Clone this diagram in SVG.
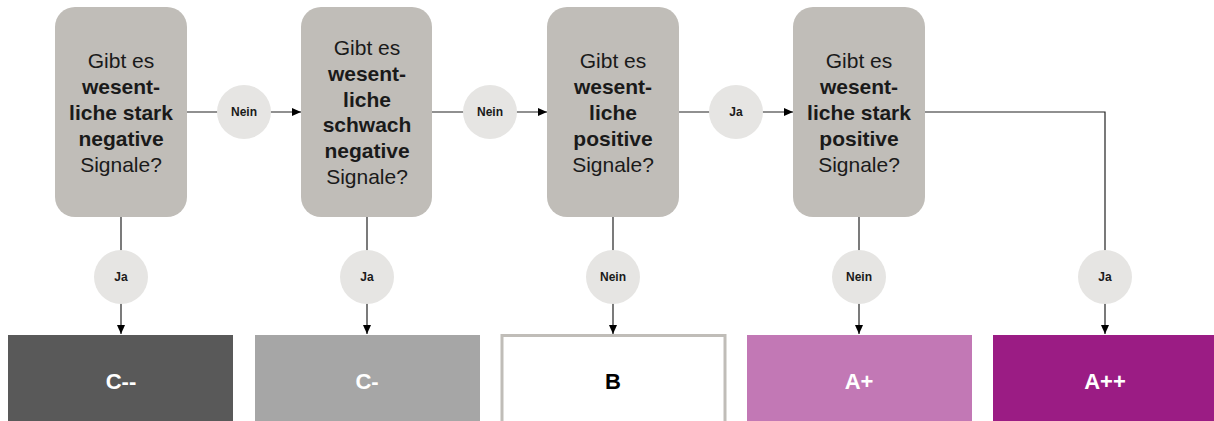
<svg xmlns="http://www.w3.org/2000/svg" width="1214" height="421" viewBox="0 0 1214 421">
<defs>
<marker id="ah" markerWidth="10" markerHeight="10" refX="9" refY="5" orient="auto" markerUnits="userSpaceOnUse">
<path d="M0,1 L9,5 L0,9 Z" fill="#000"/>
</marker>
<style>
.q{fill:#C0BDB8;}
.qt{font-family:"Liberation Sans",Arial,Helvetica,sans-serif;font-size:21px;fill:#1a1a1a;text-anchor:middle;}
.b{font-weight:bold;}
.c{fill:#E6E5E3;}
.ct{font-family:"Liberation Sans",Arial,Helvetica,sans-serif;font-size:12px;font-weight:bold;fill:#1a1a1a;text-anchor:middle;}
.ln{stroke:#222;stroke-width:1.2;fill:none;}
.rt{font-family:"Liberation Sans",Arial,Helvetica,sans-serif;font-size:22px;font-weight:bold;fill:#fff;text-anchor:middle;}
</style>
</defs>
<rect width="1214" height="421" fill="#fff"/>
<g id="connectors">
<line class="ln" x1="187" y1="112" x2="301" y2="112" marker-end="url(#ah)"/>
<line class="ln" x1="432" y1="112" x2="547" y2="112" marker-end="url(#ah)"/>
<line class="ln" x1="679" y1="112" x2="793" y2="112" marker-end="url(#ah)"/>
<polyline class="ln" points="925,112 1105,112 1105,334" marker-end="url(#ah)"/>
<line class="ln" x1="121" y1="217" x2="121" y2="334" marker-end="url(#ah)"/>
<line class="ln" x1="367" y1="217" x2="367" y2="334" marker-end="url(#ah)"/>
<line class="ln" x1="613" y1="217" x2="613" y2="334" marker-end="url(#ah)"/>
<line class="ln" x1="859" y1="217" x2="859" y2="334" marker-end="url(#ah)"/>
<circle class="c" cx="244" cy="112" r="27"/><text class="ct" x="244" y="116">Nein</text>
<circle class="c" cx="490" cy="112" r="27"/><text class="ct" x="490" y="116">Nein</text>
<circle class="c" cx="736" cy="112" r="27"/><text class="ct" x="736" y="116">Ja</text>
<circle class="c" cx="121" cy="277" r="27"/><text class="ct" x="121" y="281">Ja</text>
<circle class="c" cx="367" cy="277" r="27"/><text class="ct" x="367" y="281">Ja</text>
<circle class="c" cx="613" cy="277" r="27"/><text class="ct" x="613" y="281">Nein</text>
<circle class="c" cx="859" cy="277" r="27"/><text class="ct" x="859" y="281">Nein</text>
<circle class="c" cx="1105" cy="277" r="27"/><text class="ct" x="1105" y="281">Ja</text>
</g>
<g id="q1">
<rect class="q" x="55" y="7" width="132" height="210" rx="20"/>
<text class="qt" x="121" y="68">Gibt es</text>
<text class="qt b" x="121" y="94">wesent-</text>
<text class="qt b" x="121" y="120">liche stark</text>
<text class="qt b" x="121" y="146">negative</text>
<text class="qt" x="121" y="172">Signale?</text>
</g>
<g id="q2">
<rect class="q" x="301" y="7" width="131" height="210" rx="20"/>
<text class="qt" x="367" y="55">Gibt es</text>
<text class="qt b" x="367" y="81">wesent-</text>
<text class="qt b" x="367" y="107">liche</text>
<text class="qt b" x="367" y="132">schwach</text>
<text class="qt b" x="367" y="158">negative</text>
<text class="qt" x="367" y="184">Signale?</text>
</g>
<g id="q3">
<rect class="q" x="547" y="7" width="132" height="210" rx="20"/>
<text class="qt" x="613" y="68">Gibt es</text>
<text class="qt b" x="613" y="94">wesent-</text>
<text class="qt b" x="613" y="120">liche</text>
<text class="qt b" x="613" y="146">positive</text>
<text class="qt" x="613" y="172">Signale?</text>
</g>
<g id="q4">
<rect class="q" x="793" y="7" width="132" height="210" rx="20"/>
<text class="qt" x="859" y="68">Gibt es</text>
<text class="qt b" x="859" y="94">wesent-</text>
<text class="qt b" x="859" y="120">liche stark</text>
<text class="qt b" x="859" y="146">positive</text>
<text class="qt" x="859" y="172">Signale?</text>
</g>
<g id="r1">
<rect x="8" y="335" width="225" height="90" fill="#595959"/>
<text class="rt" x="121" y="389">C--</text>
</g>
<g id="r2">
<rect x="255" y="335" width="225" height="90" fill="#A6A6A6"/>
<text class="rt" x="367" y="389">C-</text>
</g>
<g id="r3">
<rect x="502" y="335.5" width="223" height="90" fill="#fff" stroke="#C0BDB8" stroke-width="3"/>
<text class="rt" x="613" y="389" style="fill:#000">B</text>
</g>
<g id="r4">
<rect x="747" y="335" width="225" height="90" fill="#C278B5"/>
<text class="rt" x="859" y="389">A+</text>
</g>
<g id="r5">
<rect x="993" y="335" width="225" height="90" fill="#9B1C84"/>
<text class="rt" x="1105" y="389">A++</text>
</g>
</svg>
